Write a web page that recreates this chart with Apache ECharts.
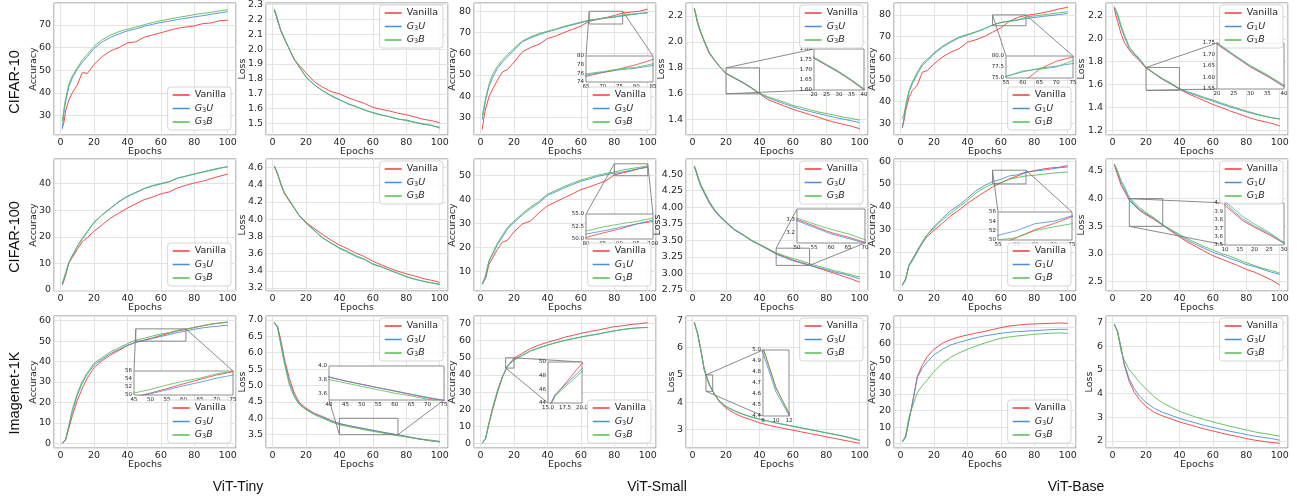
<!DOCTYPE html>
<html>
<head>
<meta charset="utf-8">
<title>Training curves</title>
<script src="https://cdn.jsdelivr.net/npm/echarts@6/dist/echarts.min.js"></script>
<style>
html, body { margin: 0; padding: 0; background: #fff; }
#chart { width: 1297px; height: 499px; }
</style>
</head>
<body>
<div id="chart"></div>
<script>
const epochs = [1, 2, 3, 5, 7, 10, 13, 16, 20, 25, 30, 35, 40, 45, 50, 55, 60, 65, 70, 75, 80, 85, 90, 95, 100]

const datasets = ['CIFAR-10', 'CIFAR-100', 'Imagenet-1K']
const models = ['ViT-Tiny', 'ViT-Small', 'ViT-Base']

// CIFAR-10
const c10TinyAccVan = [24.5, 27, 32, 37, 40, 43.5, 49, 48.5, 52.5, 56, 58.5, 60, 62, 62.5, 64.5, 65.5, 66.5, 67.5, 68.5, 69, 69.5, 70.5, 70.8, 71.8, 72]
const c10TinyAccU = [24, 31, 36, 43, 46.5, 50.5, 53.5, 56, 59.5, 62.5, 64.5, 66, 67.3, 68.2, 69.3, 70.2, 71, 71.6, 72.3, 72.9, 73.5, 74, 74.6, 75.2, 75.8]
const c10TinyAccB = [27.5, 33, 37.5, 44, 47.5, 51, 54.5, 57, 60.5, 63.5, 65.5, 67, 68, 69, 70, 71, 71.8, 72.5, 73.2, 73.8, 74.5, 75, 75.5, 76.1, 76.7]
const c10TinyLossVan = [2.26, 2.23, 2.19, 2.12, 2.07, 2.0, 1.93, 1.89, 1.84, 1.78, 1.745, 1.715, 1.70, 1.675, 1.655, 1.635, 1.61, 1.596, 1.585, 1.57, 1.56, 1.545, 1.53, 1.52, 1.506]
const c10TinyLossU = [2.26, 2.23, 2.19, 2.12, 2.07, 2.0, 1.93, 1.88, 1.81, 1.76, 1.72, 1.685, 1.66, 1.635, 1.615, 1.59, 1.575, 1.56, 1.545, 1.53, 1.525, 1.51, 1.5, 1.487, 1.476]
const c10TinyLossB = [2.27, 2.24, 2.2, 2.125, 2.075, 2.0, 1.93, 1.88, 1.815, 1.76, 1.72, 1.69, 1.662, 1.632, 1.612, 1.593, 1.572, 1.556, 1.548, 1.532, 1.52, 1.508, 1.495, 1.49, 1.47]
const c10SmallAccVan = [24.3, 30, 34, 39.7, 42.9, 47.5, 51.4, 52.5, 56, 60.9, 63, 64.5, 67.2, 68.3, 70, 71.5, 73, 75.3, 76.2, 77, 78, 79.2, 79.6, 80, 81]
const c10SmallAccU = [29, 33.5, 38, 44.5, 48.5, 53, 56, 58.5, 61.7, 65.6, 67.5, 69, 70.3, 71.4, 72.6, 73.6, 74.6, 75.6, 76.2, 76.8, 77.2, 77.8, 78.4, 78.9, 79.5]
const c10SmallAccB = [31, 35, 39, 45.5, 50, 54, 57, 59.5, 62.5, 66, 68, 69.5, 70.6, 71.6, 72.9, 73.9, 74.9, 75.9, 76.4, 77, 77.4, 78.2, 78.6, 79, 79.2]
const c10SmallLossVan = [2.256, 2.2, 2.14, 2.064, 2.0, 1.91, 1.86, 1.81, 1.755, 1.72, 1.685, 1.645, 1.60, 1.556, 1.53, 1.505, 1.48, 1.46, 1.44, 1.42, 1.398, 1.38, 1.365, 1.35, 1.33]
const c10SmallLossU = [2.26, 2.21, 2.15, 2.07, 2.005, 1.915, 1.862, 1.812, 1.757, 1.722, 1.687, 1.647, 1.603, 1.57, 1.546, 1.523, 1.50, 1.48, 1.464, 1.448, 1.433, 1.418, 1.405, 1.392, 1.377]
const c10SmallLossB = [2.26, 2.21, 2.155, 2.075, 2.01, 1.92, 1.865, 1.815, 1.76, 1.725, 1.69, 1.65, 1.606, 1.577, 1.556, 1.535, 1.51, 1.495, 1.477, 1.46, 1.448, 1.435, 1.42, 1.41, 1.397]
const c10BaseAccVan = [27.7, 31, 35.7, 41.9, 45, 47.5, 53.5, 54.3, 57.4, 60.5, 62.8, 64.4, 67.4, 68.5, 70, 72, 74, 77, 78.8, 79.8, 80.3, 81, 81.8, 82.8, 83.5]
const c10BaseAccU = [28, 32, 37, 44.3, 48, 52.7, 56.6, 58.9, 62, 65, 67.4, 69.4, 70.7, 72, 73.5, 75.4, 76.4, 77.2, 77.7, 78.3, 78.8, 79.3, 79.7, 80.2, 80.7]
const c10BaseAccB = [32, 34, 38, 45, 49, 53.5, 57.5, 59.5, 62.5, 65.5, 67.8, 69.8, 71, 72.2, 73.6, 75.3, 76.6, 77, 77.5, 79, 79.5, 80, 80.5, 81, 81.5]
const c10BaseLossVan = [2.27, 2.2, 2.153, 2.046, 1.97, 1.9, 1.85, 1.81, 1.745, 1.695, 1.645, 1.605, 1.56, 1.522, 1.49, 1.459, 1.427, 1.40, 1.372, 1.346, 1.32, 1.296, 1.279, 1.262, 1.24]
const c10BaseLossU = [2.28, 2.24, 2.2, 2.1, 2.02, 1.915, 1.865, 1.82, 1.748, 1.697, 1.648, 1.608, 1.563, 1.532, 1.506, 1.48, 1.456, 1.43, 1.407, 1.384, 1.363, 1.343, 1.326, 1.311, 1.30]
const c10BaseLossB = [2.28, 2.25, 2.22, 2.12, 2.04, 1.93, 1.875, 1.83, 1.752, 1.7, 1.652, 1.612, 1.567, 1.538, 1.514, 1.488, 1.465, 1.44, 1.416, 1.392, 1.369, 1.349, 1.329, 1.311, 1.30]

// CIFAR-100
const c100TinyAccVan = [1.9, 3.5, 5.5, 10.3, 12.2, 15.3, 18.2, 19.7, 22.1, 24.6, 27.1, 29, 30.8, 32.4, 34, 35, 36.2, 36.9, 38.4, 39.4, 40.3, 40.9, 41.9, 42.8, 43.6]
const c100TinyAccU = [2, 4, 6, 10.3, 12.8, 16.3, 19.1, 21.8, 25.3, 28.4, 30.9, 33.4, 35.3, 36.6, 38.1, 39.1, 39.9, 40.7, 42.2, 42.8, 43.6, 44.4, 45.2, 45.9, 46.3]
const c100TinyAccB = [2.5, 4.5, 6.5, 10.5, 13, 16.5, 19.5, 22, 25.5, 28.3, 30.7, 33.2, 35.1, 36.8, 38.2, 39.3, 40.1, 40.8, 42, 42.9, 43.7, 44.3, 45, 45.7, 46.5]
const c100TinyLossVan = [4.61, 4.57, 4.52, 4.4, 4.3, 4.21, 4.13, 4.04, 3.965, 3.89, 3.82, 3.755, 3.70, 3.655, 3.605, 3.565, 3.51, 3.47, 3.43, 3.395, 3.365, 3.34, 3.31, 3.29, 3.265]
const c100TinyLossU = [4.62, 4.58, 4.53, 4.41, 4.31, 4.22, 4.13, 4.04, 3.96, 3.87, 3.78, 3.72, 3.66, 3.615, 3.565, 3.53, 3.475, 3.445, 3.405, 3.37, 3.33, 3.3, 3.28, 3.26, 3.245]
const c100TinyLossB = [4.62, 4.58, 4.53, 4.41, 4.31, 4.22, 4.13, 4.04, 3.955, 3.865, 3.785, 3.725, 3.668, 3.625, 3.575, 3.535, 3.48, 3.45, 3.41, 3.372, 3.335, 3.305, 3.278, 3.258, 3.24]
const c100SmallAccVan = [5, 6, 7, 12.9, 15.3, 19.2, 22.2, 23, 26.6, 29.8, 31.1, 34.6, 37.4, 39.1, 40.8, 42.4, 44.2, 45.3, 46.6, 47.9, 50.3, 51.2, 52, 53, 53.5]
const c100SmallAccU = [4.5, 6, 8, 14, 16.7, 21.1, 24.3, 27.7, 30.5, 33.6, 36.3, 38.7, 41.8, 43.3, 44.9, 46.3, 47.7, 48.6, 49.7, 50.5, 51, 51.6, 52.3, 53, 53.8]
const c100SmallAccB = [5, 6.5, 8.5, 14.5, 17.3, 21.8, 25, 28.3, 31, 34.2, 37, 39.3, 42.3, 43.9, 45.5, 46.9, 48.2, 49.2, 50.2, 51, 51.6, 52.4, 53, 53.5, 54.2]
const c100SmallLossVan = [4.61, 4.55, 4.46, 4.32, 4.22, 4.07, 3.96, 3.87, 3.775, 3.66, 3.585, 3.5, 3.435, 3.37, 3.30, 3.25, 3.2, 3.165, 3.125, 3.08, 3.04, 3.0, 2.955, 2.915, 2.866]
const c100SmallLossU = [4.6, 4.54, 4.45, 4.31, 4.21, 4.06, 3.95, 3.86, 3.765, 3.655, 3.58, 3.495, 3.43, 3.36, 3.29, 3.24, 3.19, 3.155, 3.12, 3.09, 3.054, 3.02, 2.99, 2.955, 2.916]
const c100SmallLossB = [4.63, 4.57, 4.48, 4.34, 4.24, 4.09, 3.97, 3.88, 3.78, 3.665, 3.59, 3.505, 3.44, 3.375, 3.31, 3.265, 3.225, 3.19, 3.145, 3.11, 3.075, 3.04, 3.01, 2.975, 2.946]
const c100BaseAccVan = [5.8, 7, 8.5, 14.4, 17, 20.6, 24.2, 27.1, 29.7, 32.8, 36, 38.6, 41.5, 44, 46.3, 48.7, 50.5, 52.2, 53.5, 55, 55.8, 56.5, 57, 57.3, 58]
const c100BaseAccU = [5.5, 6.8, 8, 14.1, 16.3, 20.2, 24.2, 27.8, 31.4, 35, 38.3, 40.8, 43.7, 47, 49.2, 51, 52, 53.5, 54, 55.2, 55.6, 56, 56.5, 57.1, 57.4]
const c100BaseAccB = [6, 7.2, 8.5, 14.6, 17, 21, 24.8, 28, 30.7, 34.2, 37.2, 40, 42.7, 46, 48.3, 50, 50.5, 52, 52.8, 53.5, 53.8, 54.2, 54.6, 55, 55.2]
const c100BaseLossVan = [4.61, 4.52, 4.43, 4.25, 4.14, 3.97, 3.88, 3.79, 3.71, 3.62, 3.52, 3.41, 3.31, 3.21, 3.13, 3.05, 2.97, 2.91, 2.85, 2.79, 2.72, 2.67, 2.6, 2.53, 2.44]
const c100BaseLossU = [4.62, 4.55, 4.47, 4.3, 4.18, 4.0, 3.9, 3.81, 3.725, 3.635, 3.52, 3.43, 3.33, 3.24, 3.17, 3.1, 3.03, 2.98, 2.92, 2.87, 2.81, 2.77, 2.72, 2.67, 2.63]
const c100BaseLossB = [4.63, 4.57, 4.5, 4.33, 4.22, 4.02, 3.93, 3.84, 3.75, 3.65, 3.53, 3.44, 3.355, 3.27, 3.2, 3.13, 3.07, 3.01, 2.96, 2.9, 2.84, 2.79, 2.74, 2.70, 2.655]

// Imagenet-1K
const in1kTinyAccVan = [0, 0.2, 1.5, 7.5, 13.5, 21, 27, 32, 37, 40.5, 43.3, 45.5, 47.8, 49.5, 50.5, 51.6, 52.8, 53.9, 55, 55.8, 56.6, 57.5, 58.3, 58.8, 59.2]
const in1kTinyAccU = [0, 0.3, 2, 8.5, 15.5, 23.5, 29.5, 33.8, 38.3, 41.3, 44, 46, 48, 49.4, 50.3, 51.3, 52.3, 53.2, 54.2, 55, 55.8, 56.5, 57, 57.4, 57.8]
const in1kTinyAccB = [0, 0.3, 2, 9, 16.5, 24.5, 30.5, 34.5, 39.2, 42, 44.8, 46.8, 48.8, 50.5, 51.4, 52.5, 53.5, 54.2, 55.3, 55.9, 56.8, 57.6, 58.3, 58.9, 59.4]
const in1kTinyLossVan = [6.92, 6.9, 6.8, 6.36, 5.83, 5.22, 4.77, 4.48, 4.31, 4.15, 4.05, 3.93, 3.84, 3.78, 3.73, 3.68, 3.63, 3.58, 3.53, 3.49, 3.44, 3.39, 3.35, 3.31, 3.28]
const in1kTinyLossU = [6.92, 6.9, 6.78, 6.3, 5.75, 5.1, 4.7, 4.44, 4.28, 4.13, 4.03, 3.92, 3.835, 3.78, 3.73, 3.68, 3.635, 3.585, 3.54, 3.495, 3.45, 3.4, 3.36, 3.33, 3.3]
const in1kTinyLossB = [6.92, 6.89, 6.75, 6.2, 5.68, 5.02, 4.65, 4.41, 4.26, 4.11, 4.0, 3.89, 3.8, 3.75, 3.7, 3.65, 3.6, 3.56, 3.51, 3.47, 3.43, 3.39, 3.35, 3.31, 3.28]
const in1kSmallAccVan = [0.3, 0.5, 3, 11.5, 19, 29.5, 38.5, 45, 49.8, 52.6, 55.4, 57.4, 59, 60.3, 61.9, 63, 64.2, 65.2, 66.1, 67.1, 68.1, 68.6, 69.4, 69.8, 70.4]
const in1kSmallAccU = [0.3, 0.5, 3, 12, 20, 30.5, 39, 45.2, 49, 51.5, 54.1, 55.8, 57.4, 58.8, 60, 61.1, 62.1, 63, 63.8, 64.8, 65.7, 66.5, 67.1, 67.5, 67.7]
const in1kSmallAccB = [0.3, 0.5, 3, 12, 20, 30.5, 38.8, 45, 48.6, 51.3, 54, 55.7, 57.3, 58.7, 59.9, 61, 62, 62.9, 63.7, 64.7, 65.6, 66.4, 67, 67.4, 67.6]
const in1kSmallLossVan = [6.92, 6.88, 6.5, 5.9, 5.2, 4.66, 4.3, 4.02, 3.78, 3.6, 3.46, 3.36, 3.25, 3.17, 3.1, 3.04, 2.98, 2.92, 2.86, 2.8, 2.74, 2.68, 2.62, 2.56, 2.5]
const in1kSmallLossU = [6.92, 6.88, 6.48, 5.85, 5.15, 4.62, 4.3, 4.04, 3.84, 3.68, 3.56, 3.46, 3.38, 3.31, 3.24, 3.18, 3.12, 3.06, 3.0, 2.94, 2.88, 2.82, 2.76, 2.68, 2.6]
const in1kSmallLossB = [6.93, 6.89, 6.52, 5.9, 5.2, 4.65, 4.32, 4.05, 3.85, 3.69, 3.57, 3.47, 3.39, 3.32, 3.25, 3.19, 3.13, 3.07, 3.01, 2.95, 2.89, 2.83, 2.77, 2.7, 2.62]
const in1kBaseAccVan = [1, 1.2, 4, 14, 24, 40.4, 47.4, 52.4, 56.8, 60.4, 62.6, 64.2, 65.4, 66.5, 67.5, 68.6, 69.8, 70.8, 71.3, 71.8, 72, 72.2, 72.4, 72.6, 72.4]
const in1kBaseAccU = [1, 1.2, 4, 14, 24, 39.8, 45.4, 49.4, 53.4, 56.8, 59.4, 61, 62.4, 63.7, 64.8, 65.6, 66.4, 67, 67.4, 67.7, 68, 68.3, 68.6, 68.8, 68.8]
const in1kBaseAccB = [1, 1.2, 5, 16, 22, 30.8, 34.8, 38.4, 43.4, 48.4, 52, 54.6, 56.8, 58.7, 60.4, 62, 63.4, 64.2, 64.8, 65.3, 65.8, 66.1, 66.4, 66.6, 66.4]
const in1kBaseLossVan = [6.93, 6.85, 6.6, 5.95, 5.2, 4.5, 4.05, 3.75, 3.45, 3.2, 3.05, 2.93, 2.8, 2.7, 2.6, 2.5, 2.42, 2.33, 2.25, 2.18, 2.1, 2.03, 1.98, 1.93, 1.9]
const in1kBaseLossU = [6.93, 6.85, 6.6, 5.95, 5.25, 4.6, 4.2, 3.9, 3.62, 3.37, 3.2, 3.08, 2.95, 2.85, 2.75, 2.65, 2.57, 2.49, 2.41, 2.34, 2.27, 2.2, 2.15, 2.1, 2.03]
const in1kBaseLossB = [6.93, 6.85, 6.62, 5.8, 5.4, 5.0, 4.75, 4.48, 4.2, 3.85, 3.6, 3.42, 3.25, 3.12, 3.0, 2.9, 2.8, 2.71, 2.62, 2.54, 2.46, 2.38, 2.32, 2.26, 2.2]

// layout
const W = 1297
const H = 499
const colLeft = [54, 266, 474, 686, 894, 1106]
const rowTop = [3, 159, 316]
const PW = 182
const PH = 132
const FONT = 'DejaVu Sans'
const COLORS = ['#ee3b3b', '#4a8fd6', '#55bd55']

// y: [min, max, step, decimals]; inset box: [left, top, width, height]
const panels = [
  { row: 0, col: 0, kind: 'Accuracy', g: 'G3', lines: [c10TinyAccVan, c10TinyAccU, c10TinyAccB], y: [21.4, 79.6, 10, 0], gap: 15 },
  { row: 0, col: 1, kind: 'Loss', g: 'G3', lines: [c10TinyLossVan, c10TinyLossU, c10TinyLossB], y: [1.424, 2.309, 0.1, 1], gap: 18 },
  { row: 0, col: 2, kind: 'Accuracy', g: 'G3', lines: [c10SmallAccVan, c10SmallAccU, c10SmallAccB], y: [21.7, 83.9, 10, 0], gap: 16,
    inset: { box: [586, 56, 67, 26], x: [65, 85, 5, 0], y: [74, 80, 2, 0], corners: ['tl', 'tr'] } },
  { row: 0, col: 3, kind: 'Loss', g: 'G3', lines: [c10SmallLossVan, c10SmallLossU, c10SmallLossB], y: [1.282, 2.30, 0.2, 1], gap: 19,
    inset: { box: [814, 49, 50, 41], x: [20, 40, 5, 0], y: [1.6, 1.8, 0.05, 2], corners: ['tl', 'bl'] } },
  { row: 0, col: 4, kind: 'Accuracy', g: 'G1', lines: [c10BaseAccVan, c10BaseAccU, c10BaseAccB], y: [24.5, 85.5, 10, 0], gap: 16,
    inset: { box: [1006, 56, 67, 22], x: [55, 75, 5, 0], y: [75, 80, 2.5, 1], corners: ['tl', 'tr'] } },
  { row: 0, col: 5, kind: 'Loss', g: 'G1', lines: [c10BaseLossVan, c10BaseLossU, c10BaseLossB], y: [1.16, 2.313, 0.2, 1], gap: 19,
    inset: { box: [1217, 43, 67, 46], x: [20, 40, 5, 0], y: [1.55, 1.75, 0.05, 2], corners: ['tl', 'bl'] } },

  { row: 1, col: 0, kind: 'Accuracy', g: 'G3', lines: [c100TinyAccVan, c100TinyAccU, c100TinyAccB], y: [-0.4, 49.3, 10, 0], gap: 15 },
  { row: 1, col: 1, kind: 'Loss', g: 'G3', lines: [c100TinyLossVan, c100TinyLossU, c100TinyLossB], y: [3.165, 4.70, 0.2, 1], gap: 18 },
  { row: 1, col: 2, kind: 'Accuracy', g: 'G1', lines: [c100SmallAccVan, c100SmallAccU, c100SmallAccB], y: [1.8, 57, 10, 0], gap: 16,
    inset: { box: [586, 214, 67, 25], x: [80, 100, 5, 0], y: [50, 55, 2.5, 1], corners: ['tl', 'tr'] } },
  { row: 1, col: 3, kind: 'Loss', g: 'G3', lines: [c100SmallLossVan, c100SmallLossU, c100SmallLossB], y: [2.733, 4.728, 0.25, 2], gap: 23,
    inset: { box: [797, 209, 68, 34], x: [50, 70, 5, 0], y: [3.12, 3.38, 0.1, 1], corners: ['tl', 'br'] } },
  { row: 1, col: 4, kind: 'Accuracy', g: 'G1', lines: [c100BaseAccVan, c100BaseAccU, c100BaseAccB], y: [3.2, 60.9, 10, 0], gap: 16,
    inset: { box: [998, 212, 74, 28], x: [55, 75, 5, 0], y: [50, 56, 2, 0], corners: ['tl', 'tr'] } },
  { row: 1, col: 5, kind: 'Loss', g: 'G1', lines: [c100BaseLossVan, c100BaseLossU, c100BaseLossB], y: [2.33, 4.717, 0.5, 1], gap: 19,
    inset: { box: [1225, 203, 59, 42], x: [10, 30, 5, 0], y: [3.5, 4.0, 0.1, 1], corners: ['tl', 'bl'] } },

  { row: 2, col: 0, kind: 'Accuracy', g: 'G3', lines: [in1kTinyAccVan, in1kTinyAccU, in1kTinyAccB], y: [-2.3, 62.3, 10, 0], gap: 15,
    inset: { box: [134, 371, 99, 24], x: [45, 75, 5, 0], y: [50, 56, 2, 0], corners: ['tl', 'tr'] } },
  { row: 2, col: 1, kind: 'Loss', g: 'G3', lines: [in1kTinyLossVan, in1kTinyLossU, in1kTinyLossB], y: [3.094, 7.12, 0.5, 1], gap: 18,
    inset: { box: [329, 366, 115, 34], x: [40, 75, 5, 0], y: [3.5, 4.0, 0.2, 1], corners: ['bl', 'br'] } },
  { row: 2, col: 2, kind: 'Accuracy', g: 'G3', lines: [in1kSmallAccVan, in1kSmallAccU, in1kSmallAccB], y: [-2.5, 74.3, 10, 0], gap: 16,
    inset: { box: [548, 362, 34, 41], x: [15, 20, 2.5, 1], y: [44, 50, 2, 0], corners: ['tr', 'bl'] } },
  { row: 2, col: 3, kind: 'Loss', g: 'G3', lines: [in1kSmallLossVan, in1kSmallLossU, in1kSmallLossB], y: [2.33, 7.15, 1, 0], gap: 9,
    inset: { box: [763, 350, 26, 66], x: [8, 12, 2, 0], y: [4.4, 5.0, 0.1, 1], corners: ['tl', 'bl'] } },
  { row: 2, col: 4, kind: 'Accuracy', g: 'G3', lines: [in1kBaseAccVan, in1kBaseAccU, in1kBaseAccB], y: [-2.6, 76.8, 10, 0], gap: 16 },
  { row: 2, col: 5, kind: 'Loss', g: 'G3', lines: [in1kBaseLossVan, in1kBaseLossU, in1kBaseLossB], y: [1.7, 7.27, 1, 0], gap: 11 }
]

// only label values that sit on a multiple of the step (hides the min/max edge ticks)
function tickFmt(step, dec) {
  return v => Math.abs(v / step - Math.round(v / step)) < 1e-6 ? v.toFixed(dec) : ''
}

function valAxis(gridIndex, r, fontSize, grid, extra) {
  return Object.assign({
    type: 'value',
    gridIndex,
    min: r[0],
    max: r[1],
    minInterval: r[2],
    maxInterval: r[2],
    axisLine: { show: false },
    axisTick: { show: false },
    splitLine: { show: grid, lineStyle: { color: '#e3e3e3', width: 1 } },
    axisLabel: {
      fontFamily: FONT,
      fontSize,
      color: '#262626',
      margin: fontSize > 7 ? 3 : 2,
      showMinLabel: true,
      showMaxLabel: true,
      formatter: tickFmt(r[2], r[3])
    }
  }, extra)
}

function legendName(name) {
  if (name === 'Vanilla') return name
  return '{it|G}{sub|' + name[1] + '}{it|' + name[2] + '}'
}

const grid = []
const xAxis = []
const yAxis = []
const series = []
const legend = []

function pairs(arr) {
  return epochs.map((e, i) => [e, arr[i]])
}

function corner(ins, c) {
  return [c[1] === 'l' ? ins.x[0] : ins.x[1], c[0] === 't' ? ins.y[1] : ins.y[0]]
}

panels.forEach(p => {
  const left = colLeft[p.col]
  const top = rowTop[p.row]
  const names = ['Vanilla', p.g + 'U', p.g + 'B']
  const gi = grid.length
  p.gi = gi
  grid.push({
    left, top, width: PW, height: PH,
    show: true, backgroundColor: '#fff', borderColor: '#8d8d8d', borderWidth: 1,
    containLabel: false, outerBoundsMode: 'none'
  })
  xAxis.push(valAxis(gi, [-3.95, 104.95, 20, 0], 9.5, true, {
    name: 'Epochs', nameLocation: 'middle', nameGap: 12, nameMoveOverlap: false,
    nameTextStyle: { fontFamily: FONT, fontSize: 9.5, color: '#262626' }
  }))
  yAxis.push(valAxis(gi, p.y, 9.5, true, {
    name: p.kind, nameLocation: 'middle', nameGap: p.gap, nameMoveOverlap: false,
    nameTextStyle: { fontFamily: FONT, fontSize: 9.5, color: '#262626' }
  }))
  p.lines.forEach((arr, k) => {
    series.push({
      type: 'line', name: names[k], xAxisIndex: gi, yAxisIndex: gi,
      data: pairs(arr), symbol: 'none', silent: true, z: 2,
      lineStyle: { color: COLORS[k], width: 1, opacity: 0.9 },
      itemStyle: { color: COLORS[k] }
    })
  })
  const lg = {
    orient: 'vertical', data: names, selectedMode: false,
    right: W - (left + PW) + 5,
    icon: 'rect', itemWidth: 17, itemHeight: 1.5, itemGap: 3.5,
    padding: [3, 5, 3, 5],
    backgroundColor: 'rgba(255,255,255,0.85)', borderColor: '#d6d6d6', borderWidth: 1, borderRadius: 3,
    formatter: legendName,
    textStyle: {
      fontFamily: FONT, fontSize: 9.5, color: '#262626',
      rich: {
        it: { fontFamily: FONT, fontSize: 9.5, fontStyle: 'italic', color: '#262626' },
        sub: { fontFamily: FONT, fontSize: 6.5, color: '#262626', verticalAlign: 'bottom', lineHeight: 8 }
      }
    },
    z: 6
  }
  if (p.kind === 'Accuracy') lg.bottom = H - (top + PH) + 5
  else lg.top = top + 2
  legend.push(lg)

  if (p.inset) {
    const ins = p.inset
    // zoom rectangle on the main axes
    series.push({
      type: 'line', xAxisIndex: gi, yAxisIndex: gi, silent: true, symbol: 'none', z: 3,
      lineStyle: { color: '#7d7d7d', width: 0.9 },
      data: [corner(ins, 'bl'), corner(ins, 'br'), corner(ins, 'tr'), corner(ins, 'tl'), corner(ins, 'bl')]
    })
    const ii = grid.length
    ins.gi = ii
    grid.push({
      left: ins.box[0], top: ins.box[1], width: ins.box[2], height: ins.box[3],
      show: true, backgroundColor: '#fff', borderColor: '#8d8d8d', borderWidth: 1,
      containLabel: false, outerBoundsMode: 'none', z: 4
    })
    xAxis.push(valAxis(ii, ins.x, 5.5, false, { z: 5 }))
    yAxis.push(valAxis(ii, ins.y, 5.5, false, { z: 5 }))
    p.lines.forEach((arr, k) => {
      series.push({
        type: 'line', name: names[k], xAxisIndex: ii, yAxisIndex: ii,
        data: pairs(arr), symbol: 'none', silent: true, z: 6,
        lineStyle: { color: COLORS[k], width: 0.9, opacity: 0.9 },
        itemStyle: { color: COLORS[k] }
      })
    })
  }
})

const titles = []
const rowY = [82, 237, 393]
datasets.forEach((t, i) => {
  titles.push({
    type: 'text', x: 14.5, y: rowY[i], rotation: Math.PI / 2, silent: true,
    style: { text: t, fontFamily: 'Liberation Sans', fontSize: 14.5, fill: '#111', align: 'center', verticalAlign: 'middle' }
  })
})
const colX = [238, 657, 1076]
models.forEach((t, i) => {
  titles.push({
    type: 'text', x: colX[i], y: 487, silent: true,
    style: { text: t, fontFamily: 'Liberation Sans', fontSize: 14, fill: '#111', align: 'center', verticalAlign: 'middle' }
  })
})

const chart = echarts.init(document.getElementById('chart'))
chart.setOption({
  animation: false,
  backgroundColor: '#fff',
  grid, xAxis, yAxis, series, legend
})

// connector lines between zoom rectangle and inset, placed through each grid's own scales
const links = []
panels.forEach(p => {
  if (!p.inset) return
  p.inset.corners.forEach(c => {
    const pt = corner(p.inset, c)
    const a = chart.convertToPixel({ gridIndex: p.gi }, pt)
    const b = chart.convertToPixel({ gridIndex: p.inset.gi }, pt)
    links.push({
      type: 'line', silent: true, z: 3,
      shape: { x1: a[0], y1: a[1], x2: b[0], y2: b[1] },
      style: { stroke: '#7d7d7d', lineWidth: 0.9 }
    })
  })
})
chart.setOption({ graphic: titles.concat(links) })
</script>
</body>
</html>
